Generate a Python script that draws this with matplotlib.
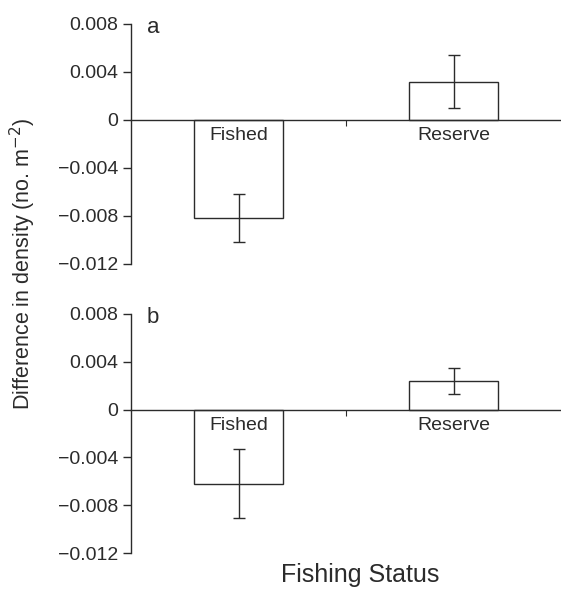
import matplotlib.pyplot as plt

plt.rcParams['font.family'] = ['Liberation Sans', 'DejaVu Sans']

# values
categories = ['Fished', 'Reserve']
panel_labels = ['a', 'b']
means_a = [-0.0082, 0.0032]
errs_a = [0.0020, 0.0022]
means_b = [-0.0062, 0.0024]
errs_b = [0.0029, 0.0011]
yticks = [0.008, 0.004, 0, -0.004, -0.008, -0.012]
ytick_labels = ['0.008', '0.004', '0', '\u22120.004', '\u22120.008', '\u22120.012']

ink = '#2b2b2b'

fig = plt.figure(figsize=(5.61, 5.89), dpi=100)
W, H = 561, 589
# axes boxes in pixels: left, top, bottom
boxes = [(131, 24, 264), (131, 314, 553)]

for (left, top, bottom), means, errs, plab in zip(boxes, [means_a, means_b], [errs_a, errs_b], panel_labels):
    ax = fig.add_axes([left / W, 1 - bottom / H, (W - left) / W, (bottom - top) / H])
    x = list(range(len(categories)))
    ax.bar(x, means, width=0.41, color='white', edgecolor=ink, linewidth=1.0, zorder=2)
    ax.errorbar(x, means, yerr=errs, fmt='none', ecolor=ink, elinewidth=1.0,
                capsize=4, capthick=1.0, zorder=3)
    ax.set_xlim(-0.5, 1.5)
    ax.set_ylim(-0.012, 0.008)
    ax.set_yticks(yticks)
    ax.set_yticklabels(ytick_labels)
    ax.spines['top'].set_visible(False)
    ax.spines['right'].set_visible(False)
    ax.spines['left'].set_color(ink)
    ax.spines['bottom'].set_color(ink)
    ax.spines['bottom'].set_position(('data', 0))
    ax.spines['left'].set_linewidth(1.0)
    ax.spines['bottom'].set_linewidth(1.0)
    ax.set_xticks([0.5])
    ax.set_xticklabels([''])
    ax.tick_params(axis='x', direction='out', length=4, width=0.8, color=ink)
    ax.tick_params(axis='y', direction='out', length=6, width=1.0, color=ink,
                   labelsize=14, labelcolor=ink, pad=3)
    for xi, name in zip(x, categories):
        ax.text(xi, -0.0006, name, ha='center', va='top', fontsize=14, color=ink)
    ax.text((147 - left) / (W - left), 1 - 9 / (bottom - top), plab, transform=ax.transAxes,
            ha='left', va='baseline', fontsize=16, color=ink)
    ax.patch.set_alpha(0)

fig.text(23 / W, 1 - 264 / H, 'Difference in density (no. m$^{\u22122}$)', rotation=90,
         ha='center', va='center', fontsize=15.5, color=ink)
fig.text(360 / W, 1 - 582 / H, 'Fishing Status', ha='center', va='baseline',
         fontsize=18, color=ink)

fig.savefig('out.png', dpi=100)
